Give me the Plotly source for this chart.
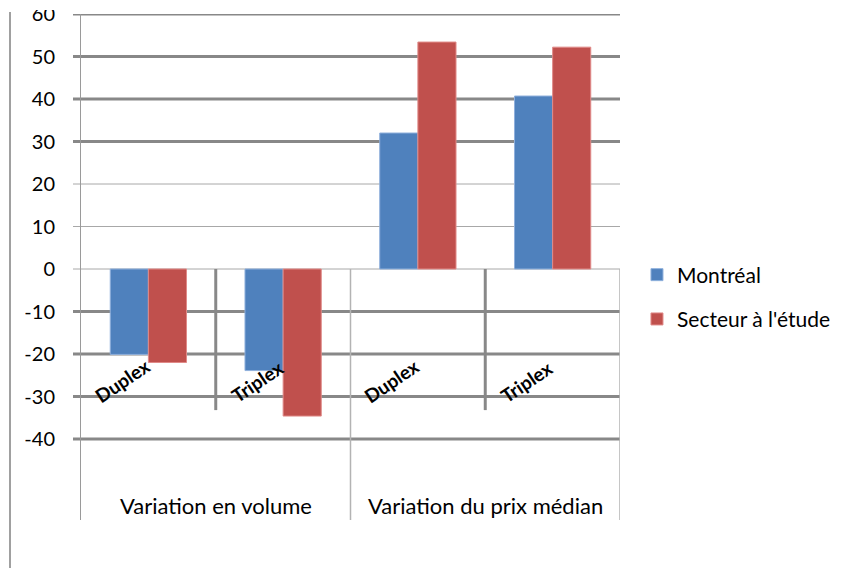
import plotly.graph_objects as go

# Chart data
categories = ["Duplex", "Triplex", "Duplex", "Triplex"]
groups = ["Variation en volume", "Variation du prix médian"]
montreal = [-20.1, -23.9, 32.0, 40.7]
secteur = [-22.0, -34.6, 53.4, 52.2]
y_ticks = [-40, -30, -20, -10, 0, 10, 20, 30, 40, 50, 60]

BLUE = "#4F81BD"
RED = "#C0504D"
GRID = "#888888"
GRID_LIGHT = "#a8a8a8"
FONT = "Lato"

x_pos = list(range(len(categories)))
y_min, y_max = -59.06, 60
PLOT_W = 848 - 81 - 228
PLOT_H = 572 - 14 - 52

fig = go.Figure()
fig.add_trace(go.Bar(
    x=x_pos, y=montreal, name="Montréal", legendgroup="m",
    marker=dict(color=BLUE, line=dict(color="#8fb0dc", width=1)),
))
fig.add_trace(go.Bar(
    x=x_pos, y=secteur, name="Secteur à l'étude", legendgroup="s",
    marker=dict(color=RED, line=dict(color="#e08a88", width=1)),
))

shapes = []
# horizontal grid lines (extended left past the axis like tick marks)
for v in y_ticks:
    thin = v in (0, 10, 20)
    shapes.append(dict(type="line", xref="paper", yref="y",
                       x0=-8 / PLOT_W, x1=1, y0=v, y1=v,
                       line=dict(color=GRID_LIGHT if thin else GRID,
                                 width=1 if thin else 3),
                       layer="below"))
# separators between the two categories inside each group
for g in range(len(groups)):
    xs = 2 * g + 0.5
    shapes.append(dict(type="line", xref="x", yref="y", x0=xs, x1=xs,
                       y0=0, y1=-33.2, line=dict(color=GRID, width=3),
                       layer="below"))
# separators between groups and at the right edge (below zero)
for xs in [1.5, 3.5]:
    shapes.append(dict(type="line", xref="x", yref="y", x0=xs, x1=xs,
                       y0=0, y1=y_min, line=dict(color="#b3b3b3", width=1.5),
                       layer="below"))
# outer frame line on the left
shapes.append(dict(type="line", xref="paper", yref="paper",
                   x0=-71 / PLOT_W, x1=-71 / PLOT_W,
                   y0=(520 - 12) / PLOT_H, y1=(520 - 568) / PLOT_H,
                   line=dict(color="#a0a0a0", width=2)))
# top strip
shapes.append(dict(type="rect", xref="paper", yref="paper",
                   x0=-0.3, x1=1.6, y0=(520 - 10) / PLOT_H, y1=1.1,
                   fillcolor="white", line=dict(width=0), layer="above"))

annotations = []
for i, c in enumerate(categories):
    annotations.append(dict(
        x=x_pos[i], y=(520 - 381) / PLOT_H, xref="x", yref="paper",
        text="<b>" + c + "</b>", textangle=-34, showarrow=False,
        xshift=-26, yshift=-29,
        font=dict(family=FONT, size=19, color="black"),
    ))
for g, name in enumerate(groups):
    annotations.append(dict(
        x=2 * g + 0.5, y=(520 - 505) / PLOT_H, xref="x", yref="paper",
        text=name, showarrow=False, yanchor="middle",
        font=dict(family=FONT, size=22, color="black"),
    ))

fig.update_layout(
    width=848, height=572,
    margin=dict(l=81, r=228, t=14, b=52, autoexpand=False),
    paper_bgcolor="white", plot_bgcolor="white",
    barmode="group", bargap=0.434, bargroupgap=0,
    font=dict(family=FONT, size=19, color="black"),
    xaxis=dict(range=[-0.5, 3.5], showticklabels=False, showgrid=False,
               zeroline=False, showline=False, ticks=""),
    yaxis=dict(range=[y_min, y_max], tickvals=y_ticks,
               ticktext=[str(v) for v in y_ticks],
               showgrid=False, zeroline=False, automargin=False,
               showline=True, linecolor="#9a9a9a", linewidth=1,
               ticks="", ticklabelstandoff=21,
               tickfont=dict(family=FONT, size=20, color="black")),
    legend=dict(x=1.0315, xanchor="left", y=(520 - 297) / PLOT_H, yanchor="middle",
                font=dict(family=FONT, size=21, color="black"),
                tracegroupgap=14, traceorder="grouped"),
    shapes=shapes, annotations=annotations,
)

fig.write_html("out.html")
